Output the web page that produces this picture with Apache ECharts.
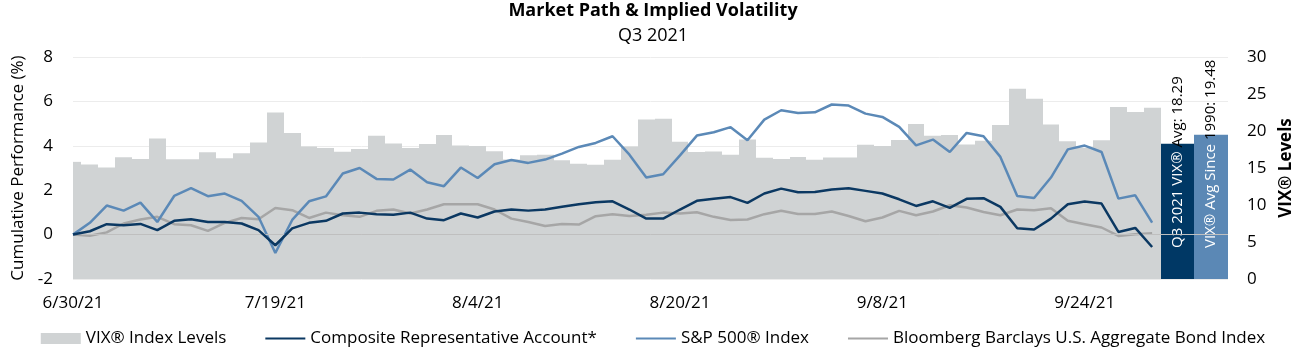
<!DOCTYPE html>
<html>
<head>
<meta charset="utf-8">
<script src="https://cdn.jsdelivr.net/npm/echarts@6/dist/echarts.min.js"></script>
<style>
html,body{margin:0;padding:0;background:#fff;}
#chart{width:1306px;height:362px;}
</style>
</head>
<body>
<div id="chart"></div>
<script>
const dates = ['6/30/21','7/1/21','7/2/21','7/6/21','7/7/21','7/8/21','7/9/21','7/12/21','7/13/21','7/14/21','7/15/21','7/16/21',
'7/19/21','7/20/21','7/21/21','7/22/21','7/23/21','7/26/21','7/27/21','7/28/21','7/29/21','7/30/21','8/2/21','8/3/21',
'8/4/21','8/5/21','8/6/21','8/9/21','8/10/21','8/11/21','8/12/21','8/13/21','8/16/21','8/17/21','8/18/21','8/19/21',
'8/20/21','8/23/21','8/24/21','8/25/21','8/26/21','8/27/21','8/30/21','8/31/21','9/1/21','9/2/21','9/3/21','9/7/21',
'9/8/21','9/9/21','9/10/21','9/13/21','9/14/21','9/15/21','9/16/21','9/17/21','9/20/21','9/21/21','9/22/21','9/23/21',
'9/24/21','9/27/21','9/28/21','9/29/21','9/30/21'];
const tickLabels = ['6/30/21','7/19/21','8/4/21','8/20/21','9/8/21','9/24/21'];

const vix = [15.83,15.48,15.07,16.44,16.20,19.00,16.18,16.17,17.12,16.33,17.01,18.45,22.50,
19.73,17.91,17.69,17.20,17.58,19.36,18.31,17.70,18.24,19.46,18.04,17.97,17.28,
16.15,16.72,16.79,16.06,15.59,15.45,16.12,17.91,21.57,21.67,18.56,17.15,17.22,
16.79,18.84,16.39,16.21,16.48,16.11,16.41,16.41,18.14,17.96,18.80,20.95,19.37,
19.46,18.18,18.69,20.81,25.71,24.36,20.87,18.63,17.75,18.76,23.25,22.56,23.14];

const composite = [0,0.15,0.47,0.42,0.48,0.20,0.62,0.69,0.57,0.57,0.50,0.20,-0.48,
0.28,0.53,0.62,0.95,0.99,0.92,0.89,0.99,0.72,0.65,0.95,0.77,1.04,
1.13,1.08,1.13,1.25,1.37,1.46,1.50,1.13,0.72,0.72,1.13,1.52,1.62,
1.69,1.43,1.85,2.07,1.91,1.92,2.03,2.09,1.97,1.85,1.59,1.29,1.50,
1.20,1.61,1.64,1.25,0.29,0.23,0.72,1.37,1.49,1.40,0.12,0.30,-0.56];

const sp500 = [0,0.53,1.31,1.08,1.44,0.57,1.74,2.09,1.73,1.85,1.52,0.80,-0.83,
0.66,1.50,1.72,2.75,3.00,2.51,2.48,2.93,2.36,2.18,3.02,2.55,3.17,
3.36,3.23,3.38,3.65,3.95,4.13,4.43,3.60,2.57,2.72,3.57,4.46,4.61,
4.84,4.25,5.18,5.60,5.48,5.51,5.86,5.81,5.45,5.30,4.85,4.02,4.28,
3.72,4.58,4.43,3.50,1.74,1.65,2.57,3.84,4.01,3.72,1.62,1.77,0.54];

const bond = [0,-0.05,0.10,0.50,0.68,0.80,0.47,0.42,0.17,0.53,0.75,0.69,1.20,
1.10,0.75,0.99,0.87,0.80,1.07,1.13,0.95,1.13,1.37,1.37,1.37,1.13,
0.72,0.57,0.39,0.48,0.45,0.83,0.92,0.84,0.89,0.99,0.95,1.01,0.80,
0.66,0.68,0.92,1.07,0.93,0.93,1.04,0.84,0.60,0.77,1.07,0.87,1.04,
1.32,1.22,1.02,0.87,1.13,1.10,1.19,0.62,0.47,0.32,-0.06,0.02,0.06];

const avgValues = [18.29, 19.48];
const avgWhite = ['Q3 2021 VIX®', 'VIX® Avg Since'];
const avgBlack = ['Avg: 18.29', '1990: 19.48'];

const FONT = 'Open Sans';
const C_VIX = '#d0d3d4', C_COMP = '#0b3862', C_SP = '#5b89b7', C_BOND = '#a6a6a6';
const C_AVG = ['#003865', '#5b88b5'];

const n = dates.length;
const xMax = n - 1 + 4.5;

const chart = echarts.init(document.getElementById('chart'), null, {renderer: 'canvas'});

function toXY(arr){ return arr.map((v,i)=>[i,v]); }

const option = {
  animation: false,
  textStyle: {fontFamily: FONT},
  title: [
    {text: 'Market Path & Implied Volatility', left: 'center', top: 2, padding: 0,
     textStyle: {fontFamily: FONT, fontSize: 18, fontWeight: 'bold', color: '#000'}},
    {text: 'Q3 2021', left: 'center', top: 27, padding: 0,
     textStyle: {fontFamily: FONT, fontSize: 18, fontWeight: 'normal', color: '#000'}}
  ],
  grid: {left: 73, right: 78, top: 57, bottom: 83},
  legend: {
    top: 325, left: 'center', itemWidth: 40, itemHeight: 11, itemGap: 38,
    textStyle: {fontFamily: FONT, fontSize: 17, color: '#000'},
    data: [
      {name: 'VIX® Index Levels', icon: 'rect'},
      {name: 'Composite Representative Account*', itemStyle: {opacity: 0}},
      {name: 'S&P 500® Index', itemStyle: {opacity: 0}},
      {name: 'Bloomberg Barclays U.S. Aggregate Bond Index', itemStyle: {opacity: 0}}
    ]
  },
  xAxis: {
    type: 'value', min: 0, max: xMax, interval: 12,
    axisLine: {show: false}, axisTick: {show: false}, splitLine: {show: false},
    axisLabel: {
      fontFamily: FONT, fontSize: 17, color: '#000', margin: 16,
      showMaxLabel: false,
      formatter: function(v){
        if (Number.isInteger(v) && v % 12 === 0) { return tickLabels[v/12] || ''; }
        return '';
      }
    }
  },
  yAxis: [
    {type: 'value', min: -2, max: 8, interval: 2,
     name: 'Cumulative Performance (%)', nameLocation: 'middle', nameGap: 38,
     nameTextStyle: {fontFamily: FONT, fontSize: 17, fontWeight: 500, color: '#000'},
     axisLine: {show: false}, axisTick: {show: false},
     axisLabel: {fontFamily: FONT, fontSize: 17, color: '#000', margin: 20},
     splitLine: {show: true, lineStyle: {color: '#ececec', width: 1}}},
    {type: 'value', min: 0, max: 30, interval: 5, position: 'right',
     name: 'VIX® Levels', nameLocation: 'middle', nameGap: 42, nameRotate: 90,
     nameTextStyle: {fontFamily: FONT, fontSize: 17, fontWeight: 'bold', color: '#000'},
     axisLine: {show: false}, axisTick: {show: false},
     axisLabel: {fontFamily: FONT, fontSize: 17, color: '#000', margin: 19},
     splitLine: {show: false}}
  ],
  series: [
    {
      name: 'VIX® Index Levels', type: 'custom', yAxisIndex: 1, z: 1,
      itemStyle: {color: C_VIX},
      data: toXY(vix),
      renderItem: function(params, api){
        const cs = params.coordSys;
        const p0 = api.coord([api.value(0) - 0.5, api.value(1)]);
        const p1 = api.coord([api.value(0) + 0.5, 0]);
        let x0 = Math.max(Math.round(p0[0]), cs.x);
        let x1 = Math.min(Math.round(p1[0]), cs.x + cs.width);
        return {type: 'rect', shape: {x: x0, y: p0[1], width: x1 - x0, height: p1[1] - p0[1]},
                style: {fill: C_VIX}};
      }
    },
    {
      name: 'avg', type: 'custom', yAxisIndex: 1, z: 2, silent: true,
      data: avgValues.map((v,i)=>[n - 1 + 1.5 + 2*i, v, i]),
      renderItem: function(params, api){
        const i = api.value(2);
        const p0 = api.coord([api.value(0) - 1, api.value(1)]);
        const p1 = api.coord([api.value(0) + 1, 0]);
        const x0 = Math.round(p0[0]), x1 = Math.round(p1[0]);
        const cx = (x0 + x1) / 2;
        return {type: 'group', children: [
          {type: 'rect', shape: {x: x0, y: p0[1], width: x1 - x0, height: p1[1] - p0[1]},
           style: {fill: C_AVG[i]}},
          {type: 'text', x: cx, y: p1[1] - 31, rotation: Math.PI/2,
           style: {text: '{w|' + avgWhite[i] + '} {k|' + avgBlack[i] + '}',
                   textAlign: 'left', textVerticalAlign: 'middle',
                   font: '15px "' + FONT + '"',
                   rich: {w: {fill: '#fff', fontSize: 15, fontFamily: FONT},
                          k: {fill: '#000', fontSize: 15, fontFamily: FONT}}}}
        ]};
      }
    },
    {
      name: 'Bloomberg Barclays U.S. Aggregate Bond Index', type: 'line', z: 3,
      data: toXY(bond), symbol: 'none', color: C_BOND,
      lineStyle: {color: C_BOND, width: 2.5},
      markLine: {silent: true, symbol: ['none','none'], label: {show: false},
                 lineStyle: {color: '#bfbfbf', width: 1, type: 'solid'},
                 data: [{yAxis: 0}]}
    },
    {
      name: 'S&P 500® Index', type: 'line', z: 4,
      data: toXY(sp500), symbol: 'none', color: C_SP,
      lineStyle: {color: C_SP, width: 2.5}
    },
    {
      name: 'Composite Representative Account*', type: 'line', z: 5,
      data: toXY(composite), symbol: 'none', color: C_COMP,
      lineStyle: {color: C_COMP, width: 2.5}
    }
  ]
};
chart.setOption(option);
</script>
</body>
</html>
